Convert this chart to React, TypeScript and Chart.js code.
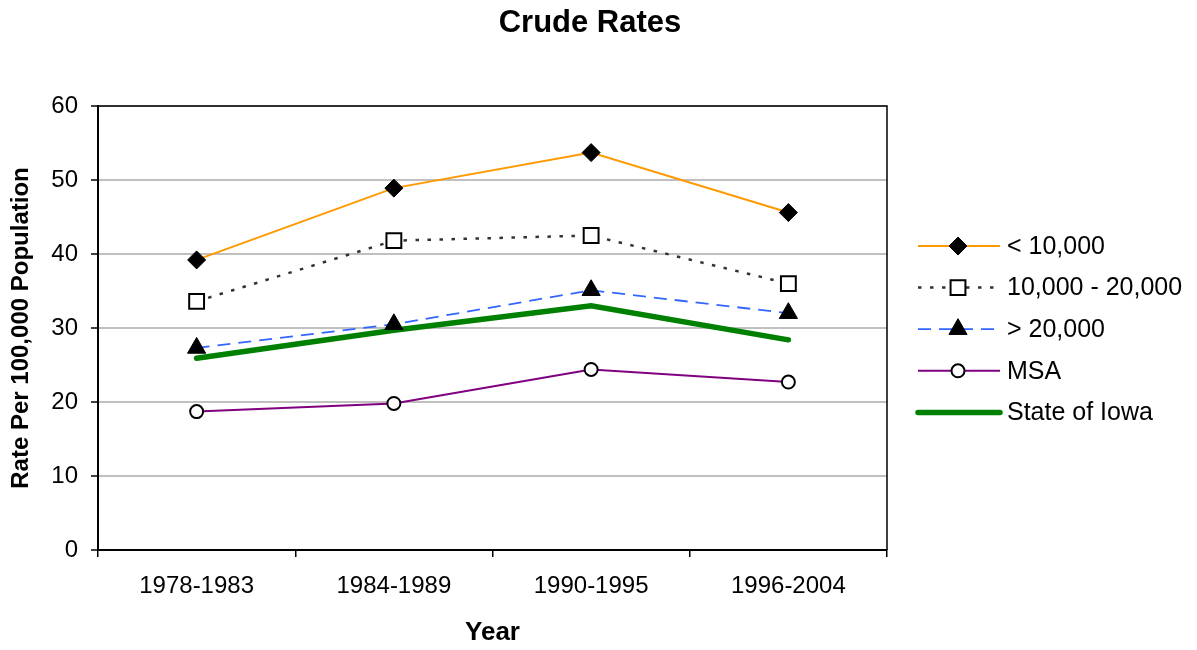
import React, { useEffect, useRef } from "react";
import { Chart, registerables } from "chart.js";

Chart.register(...registerables);

const categories = ["1978-1983", "1984-1989", "1990-1995", "1996-2004"];
const under10k = [39.2, 48.9, 53.7, 45.6];
const from10kTo20k = [33.6, 41.8, 42.5, 36.0];
const over20k = [27.3, 30.5, 35.1, 32.0];
const msa = [18.7, 19.8, 24.4, 22.7];
const stateOfIowa = [25.9, 29.7, 33.0, 28.4];
const seriesLabels = ["< 10,000", "10,000 - 20,000", "> 20,000", "MSA", "State of Iowa"];
const yTicks = [0, 10, 20, 30, 40, 50, 60];

const FONT = "Arial, 'Liberation Sans', sans-serif";

function drawMarker(ctx: CanvasRenderingContext2D, ds: any, x: number, y: number) {
  const r = ds.pointRadius;
  ctx.save();
  ctx.lineWidth = ds.pointBorderWidth;
  ctx.strokeStyle = ds.pointBorderColor;
  ctx.fillStyle = ds.pointBackgroundColor;
  ctx.beginPath();
  const style = ds.pointStyle;
  if (style === "rectRot") {
    ctx.moveTo(x, y - r);
    ctx.lineTo(x + r, y);
    ctx.lineTo(x, y + r);
    ctx.lineTo(x - r, y);
    ctx.closePath();
  } else if (style === "rect") {
    const s = r * Math.SQRT1_2;
    ctx.rect(x - s, y - s, 2 * s, 2 * s);
  } else if (style === "triangle") {
    const h = r * Math.sqrt(3) / 2;
    ctx.moveTo(x, y - r);
    ctx.lineTo(x + h, y + r / 2);
    ctx.lineTo(x - h, y + r / 2);
    ctx.closePath();
  } else {
    ctx.arc(x, y, r, 0, Math.PI * 2);
  }
  ctx.fill();
  if (ctx.lineWidth > 0) ctx.stroke();
  ctx.restore();
}

const customPlugin = {
  id: "custom",
  afterDraw(chart: any) {
    const ctx = chart.ctx as CanvasRenderingContext2D;
    const a = chart.chartArea;
    ctx.save();
    // plot border (top/right)
    ctx.strokeStyle = "#000";
    ctx.lineWidth = 1.5;
    ctx.beginPath();
    ctx.moveTo(a.left, a.top);
    ctx.lineTo(a.right, a.top);
    ctx.lineTo(a.right, a.bottom);
    ctx.stroke();
    // title
    ctx.fillStyle = "#000";
    ctx.font = `bold 31px ${FONT}`;
    ctx.textAlign = "center";
    ctx.textBaseline = "middle";
    ctx.fillText("Crude Rates", 590, 23);
    // legend
    const x0 = 918;
    const x1 = 1000;
    chart.data.datasets.forEach((ds: any, i: number) => {
      const y = 246 + i * 41.6;
      ctx.save();
      ctx.strokeStyle = ds.borderColor;
      ctx.lineWidth = ds.borderWidth;
      ctx.lineCap = ds.borderCapStyle || "butt";
      ctx.setLineDash(ds.borderDash || []);
      ctx.beginPath();
      ctx.moveTo(x0, y);
      ctx.lineTo(x1, y);
      ctx.stroke();
      ctx.restore();
      if (ds.pointRadius > 0) drawMarker(ctx, ds, 958, y);
      ctx.fillStyle = "#000";
      ctx.font = `25px ${FONT}`;
      ctx.textBaseline = "middle";
      ctx.textAlign = "left";
      ctx.fillText(ds.label, 1007, y + 1);
    });
    ctx.restore();
  },
};

export default function App() {
  const ref = useRef<HTMLCanvasElement>(null);
  useEffect(() => {
    document.body.style.margin = "0";
    const chart = new Chart(ref.current!, {
      type: "line",
      data: {
        labels: categories,
        datasets: [
          {
            label: seriesLabels[0],
            data: under10k,
            borderColor: "#FF9900",
            borderWidth: 2,
            pointStyle: "rectRot",
            pointRadius: 9,
            pointBackgroundColor: "#000",
            pointBorderColor: "#000",
            pointBorderWidth: 1,
          },
          {
            label: seriesLabels[1],
            data: from10kTo20k,
            borderColor: "#333333",
            borderWidth: 2.5,
            borderDash: [3.5, 8.5],
            pointStyle: "rect",
            pointRadius: 10.5,
            pointBackgroundColor: "#fff",
            pointBorderColor: "#000",
            pointBorderWidth: 2,
          },
          {
            label: seriesLabels[2],
            data: over20k,
            borderColor: "#3366FF",
            borderWidth: 1.8,
            borderDash: [13, 8],
            pointStyle: "triangle",
            pointRadius: 10.5,
            pointBackgroundColor: "#000",
            pointBorderColor: "#000",
            pointBorderWidth: 1,
          },
          {
            label: seriesLabels[3],
            data: msa,
            borderColor: "#800080",
            borderWidth: 2,
            pointStyle: "circle",
            pointRadius: 6.5,
            pointBackgroundColor: "#fff",
            pointBorderColor: "#000",
            pointBorderWidth: 2,
          },
          {
            label: seriesLabels[4],
            data: stateOfIowa,
            borderColor: "#008000",
            borderWidth: 5.5,
            borderCapStyle: "round",
            pointRadius: 0,
          },
        ] as any,
      },
      options: {
        animation: false,
        responsive: false,
        maintainAspectRatio: false,
        layout: { padding: { left: 0, right: 310, top: 106, bottom: 0 } },
        plugins: {
          legend: { display: false },
          tooltip: { enabled: false },
          title: { display: false },
        },
        scales: {
          x: {
            offset: true,
            afterFit: (s: any) => {
              s.height = 100;
            },
            grid: {
              offset: true,
              drawOnChartArea: false,
              drawTicks: true,
              tickLength: 7,
              color: "#000",
              lineWidth: 1.5,
            },
            border: { color: "#000", width: 2 },
            ticks: { color: "#000", font: { family: FONT, size: 24 }, padding: 15 },
            title: {
              display: true,
              text: "Year",
              color: "#000",
              font: { family: FONT, size: 26, weight: "bold" },
              padding: { top: 2, bottom: 2 },
            },
          },
          y: {
            min: 0,
            max: 60,
            afterFit: (s: any) => {
              s.width = 98;
            },
            afterBuildTicks: (s: any) => {
              s.ticks = yTicks.map((v) => ({ value: v }));
            },
            ticks: { color: "#000", font: { family: FONT, size: 24 }, padding: 13 },
            grid: {
              color: "#c0c0c0",
              lineWidth: 2,
              tickLength: 7,
              tickColor: "#000",
              tickWidth: 1.5,
            },
            border: { color: "#000", width: 2 },
            title: {
              display: true,
              text: "Rate Per 100,000 Population",
              color: "#000",
              font: { family: FONT, size: 24, weight: "bold" },
              padding: { top: 7, bottom: 4 },
            },
          },
        },
      },
      plugins: [customPlugin],
    });
    return () => chart.destroy();
  }, []);
  return <canvas ref={ref} width={1197} height={650} style={{ display: "block" }} />;
}
